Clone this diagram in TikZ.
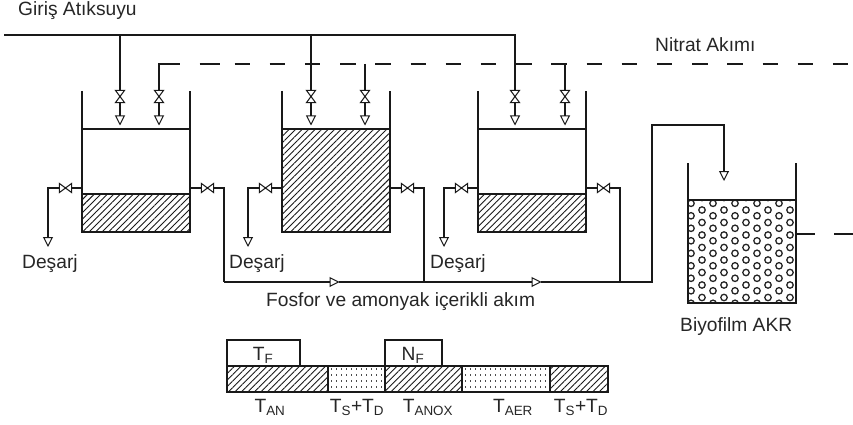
\documentclass[tikz,border=0pt]{standalone}
\usepackage{fontspec}
\setmainfont{Liberation Sans}
\usepackage{tikz}
\usetikzlibrary{arrows.meta,patterns.meta}
\tikzset{
  hat/.style={line width=1.55pt,draw=black!90},
  cok/.style={hat,-{Triangle[open,length=10pt,width=10pt,line width=1pt]}},
  kesik/.style={hat,dash pattern=on 15.5pt off 19.7pt},
  tara/.style={pattern={Lines[angle=45,distance=4.6pt,line width=0.9pt]},pattern color=black!90},
  nokta/.style={line width=1.1pt,draw=black!70,dash pattern=on 1.1pt off 3.9pt},
  yazi/.style={font=\fontsize{19.2}{22}\selectfont,inner sep=0pt,text=black!85},
  vana/.pic={\draw[line width=1.05pt,draw=black!90,fill=white] (-6.2,-4.6) -- (6.2,4.6) -- (6.2,-4.6) -- (-6.2,4.6) -- cycle;},
}
\begin{document}
\begin{tikzpicture}[x=1pt,y=-1pt]
  \useasboundingbox (0,0) rectangle (853,425);
  % borular
  \coordinate (giris) at (4,35);
  \coordinate (nitrat) at (159,64);
  \draw[hat] (giris) -- (515,35) -- (515,91);
  \draw[hat] (120,35) -- (120,91);
  \draw[hat] (311,35) -- (311,91);
  \draw[hat] (nitrat |- 0,91) -- (nitrat) -- (180,64);
  \draw[hat] (199.5,64) -- (220,64);
  \draw[kesik] (234.5,64) -- (853,64);
  \draw[hat] (365,64) -- (365,91);
  \draw[hat] (565,64) -- (565,91);
  % tanklar
  \foreach \x/\sev/\gi/\gii/\ad in {82/194/38/77/a,282/129/29/83/b,478/194/37/87/c} {
    \path[tara] (\x,\sev) rectangle (\x+108,232);
    \draw[hat] (\x,91) -- (\x,232) -- (\x+108,232) -- (\x+108,91);
    \draw[hat] (\x,129) -- (\x+108,129);
    \draw[hat] (\x,\sev) -- (\x+108,\sev);
    % giris vanalari
    \foreach \d in {\gi,\gii} {
      \draw[cok] (\x+\d,90) -- (\x+\d,125.5);
      \pic at (\x+\d,96.5) [rotate=90] {vana};
    }
    % yan cikislar
    \coordinate (sol\ad) at (\x-34,188);
    \coordinate (sag\ad) at (\x+142,188);
    \draw[cok] (\x,188) -- (sol\ad) -- (\x-34,247);
    \pic at (\x-16.5,188) {vana};
    \draw[hat] (\x+108,188) -- (sag\ad) -- (\x+142,282);
    \pic at (\x+125.5,188) {vana};
  }
  % toplama hatti
  \draw[cok] (saga |- 0,282) -- (339.5,282);
  \draw[cok] (339,282) -- (541.5,282);
  \draw[cok] (541,282) -- (652,282) -- (652,125) -- (724,125) -- (724,181);
  % biyofilm
  \begin{scope}
    \clip (688,200) rectangle (796,303);
    \foreach \i in {0,...,9} {
      \pgfmathsetmacro{\kay}{mod(\i,2)==0 ? 203.3 : 210}
      \foreach \j in {-1,...,8} {
        \draw[line width=1.3pt,draw=black!85] (691+11*\i,\kay+12.5*\j) circle[radius=3.2pt];
      }
    }
  \end{scope}
  \draw[hat] (688,163) -- (688,303) -- (796,303) -- (796,163);
  \draw[hat] (688,200) -- (796,200);
  \draw[hat] (796,234) -- (815,234);
  \draw[hat] (834,234) -- (853,234);
  % zaman cubugu
  \path[tara] (227,366) rectangle (328,392);
  \path[tara] (385,366) rectangle (462,392);
  \path[tara] (550,366) rectangle (608,392);
  \foreach \y in {369,375,381,387} {
    \draw[nokta] (331,\y) -- (384,\y);
    \draw[nokta] (465,\y) -- (549,\y);
  }
  \draw[hat] (227,366) rectangle (608,392);
  \foreach \x in {328,385,462,550} {\draw[hat] (\x,366) -- (\x,392);}
  \draw[hat] (227,366) rectangle (300,340);
  \draw[hat] (385,366) rectangle (442,340);
  % yazilar
  \node[yazi,anchor=base west] (lgiris) at (18,15.5) {Giriş Atıksuyu};
  \node[yazi,anchor=base west] (lnitrat) at (655,52) {Nitrat Akımı};
  \node[yazi,anchor=base west] (lda) at (22,268) {Deşarj};
  \node[yazi,anchor=base west] (ldb) at (229,268) {Deşarj};
  \node[yazi,anchor=base west] (ldc) at (430,268) {Deşarj};
  \node[yazi,anchor=base west] (lfosfor) at (266,306) {Fosfor ve amonyak içerikli akım};
  \node[yazi,anchor=base west] (lbiyo) at (680,331) {Biyofilm AKR};
  \node[yazi,anchor=base] (ltf) at (263,360) {T\textsubscript{F}};
  \node[yazi,anchor=base] (lnf) at (413,360) {N\textsubscript{F}};
  \node[yazi,anchor=base] (ltan) at (270,412) {T\textsubscript{AN}};
  \node[yazi,anchor=base] (lts) at (357,412) {T\textsubscript{S}+T\textsubscript{D}};
  \node[yazi,anchor=base] (lanox) at (428,412) {T\textsubscript{ANOX}};
  \node[yazi,anchor=base] (laer) at (513,412) {T\textsubscript{AER}};
  \node[yazi,anchor=base] (ltsb) at (581,412) {T\textsubscript{S}+T\textsubscript{D}};
\end{tikzpicture}
\end{document}
